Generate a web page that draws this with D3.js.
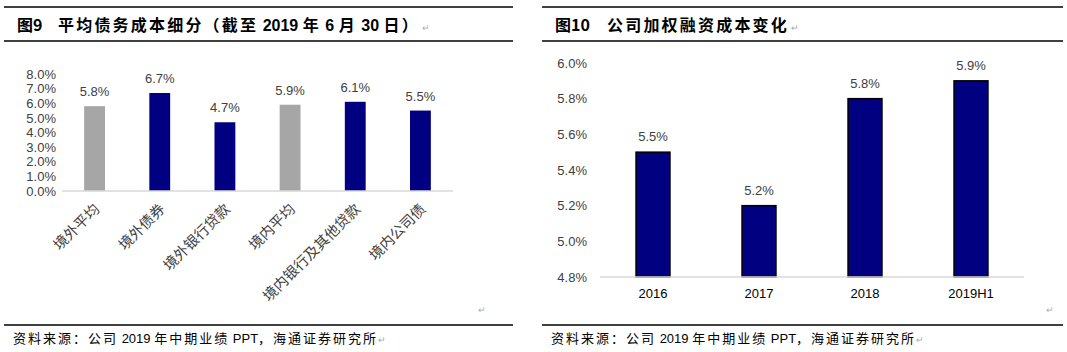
<!doctype html>
<html>
<head>
<meta charset="utf-8">
<title>chart</title>
<style>
body { margin: 0; background: #fff; }
svg text { font-family: Arial, "Liberation Sans", "Noto Sans CJK SC", sans-serif; }
.cjk { font-family: "Noto Sans CJK SC", sans-serif; }
</style>
<script src="https://cdn.jsdelivr.net/npm/d3@7"></script>
</head>
<body>
<svg width="1067" height="352"></svg>
<script>
// left chart data
var leftCats = ["境外平均", "境外债券", "境外银行贷款", "境内平均", "境内银行及其他贷款", "境内公司债"];
var leftVals = [0.058, 0.067, 0.047, 0.059, 0.061, 0.055];
var leftIsAvg = [true, false, false, true, false, false];
var leftTicks = [0, 0.01, 0.02, 0.03, 0.04, 0.05, 0.06, 0.07, 0.08];

// right chart data
var rightCats = ["2016", "2017", "2018", "2019H1"];
var rightVals = [0.055, 0.052, 0.058, 0.059];
var rightTicks = [0.048, 0.050, 0.052, 0.054, 0.056, 0.058, 0.060];

var svg = d3.select("svg");
var pct = d3.format(".1%");

// CJK runs get letter spacing, latin runs none
function spaced(t, str, ls) {
    str.match(/[\u3000-\u9fff\uff00-\uffef]+|[^\u3000-\u9fff\uff00-\uffef]+/g).forEach(function(s) {
        var cjk = /[\u3000-\u9fff\uff00-\uffef]/.test(s);
        t.append("tspan").attr("letter-spacing", cjk ? ls : 0)
            .style("font-family", cjk ? null : "Arial")
            .attr("xml:space", "preserve")
            .text(s);
    });
    return t;
}

// frame lines, titles, footnotes
function frame(x0, x1, title, tx, gap) {
    [7, 41, 325].forEach(function(y) {
        svg.append("line").attr("x1", x0).attr("x2", x1).attr("y1", y).attr("y2", y)
            .attr("stroke", "#000").attr("stroke-width", 1.5);
    });
    svg.append("text").attr("class", "cjk").attr("x", tx).attr("y", 31)
        .attr("font-size", 16).attr("font-weight", "bold").attr("fill", "#000")
        .text(title[0]);
    var t = svg.append("text").attr("class", "cjk").attr("x", tx + gap).attr("y", 31)
        .attr("font-size", 16).attr("font-weight", "bold").attr("fill", "#000");
    spaced(t, title[1], 2.2);
    t.append("tspan").attr("font-size", 9).attr("font-weight", "normal").attr("fill", "#aaa").text(" ↵");
    var f = svg.append("text").attr("class", "cjk").attr("x", tx - 4).attr("y", 343)
        .attr("font-size", 13).attr("fill", "#000");
    spaced(f, "资料来源：公司 2019 年中期业绩 PPT，海通证券研究所", 2);
    f.append("tspan").attr("font-size", 9).attr("fill", "#aaa").text("↵");
}
frame(4, 513, ["图9", "平均债务成本细分（截至 2019 年 6 月 30 日）"], 17, 41);
frame(542, 1063, ["图10", "公司加权融资成本变化"], 555, 52);
svg.append("text").attr("x", 478).attr("y", 313).attr("font-size", 9).attr("fill", "#aaa").text("↵");
svg.append("text").attr("x", 1046).attr("y", 313).attr("font-size", 9).attr("fill", "#aaa").text("↵");

// left chart
var xL = d3.scaleBand().domain(leftCats).range([62, 453]).paddingInner(0.68).paddingOuter(0.34);
var yL = d3.scaleLinear().domain([0, 0.08]).range([191, 74]);

var gL = svg.append("g");
gL.append("g").attr("transform", "translate(56,0)")
    .call(d3.axisLeft(yL).tickValues(leftTicks).tickFormat(pct).tickSize(0).tickPadding(0))
    .call(function(g) { g.select(".domain").remove(); })
    .selectAll("text").attr("font-size", 13).attr("fill", "#404040").style("font-family", "Arial");

gL.selectAll("rect").data(leftCats).enter().append("rect")
    .attr("x", function(d) { return xL(d); })
    .attr("width", xL.bandwidth())
    .attr("y", function(d, i) { return yL(leftVals[i]); })
    .attr("height", function(d, i) { return yL(0) - yL(leftVals[i]); })
    .attr("fill", function(d, i) { return leftIsAvg[i] ? "#a6a6a6" : "#000080"; });

gL.append("line").attr("x1", 62).attr("x2", 453).attr("y1", yL(0)).attr("y2", yL(0))
    .attr("stroke", "#d9d9d9").attr("stroke-width", 1.5);

gL.selectAll(".vl").data(leftCats).enter().append("text")
    .attr("x", function(d) { return xL(d) + xL.bandwidth() / 2; })
    .attr("y", function(d, i) { return yL(leftVals[i]) - 10; })
    .attr("text-anchor", "middle").attr("font-size", 13).attr("fill", "#404040")
    .text(function(d, i) { return pct(leftVals[i]); });

gL.selectAll(".xl").data(leftCats).enter().append("text").attr("class", "cjk")
    .attr("transform", function(d) {
        return "translate(" + (xL(d) + xL.bandwidth() / 2 + 6) + ",210) rotate(-45)";
    })
    .attr("text-anchor", "end").attr("font-size", 14.5).attr("fill", "#404040")
    .text(function(d) { return d; });

// right chart
var xR = d3.scaleBand().domain(rightCats).range([600, 1024]).paddingInner(0.68).paddingOuter(0.34);
var yR = d3.scaleLinear().domain([0.048, 0.060]).range([277, 63]);

var gR = svg.append("g");
gR.append("g").attr("transform", "translate(587,0)")
    .call(d3.axisLeft(yR).tickValues(rightTicks).tickFormat(pct).tickSize(0).tickPadding(0))
    .call(function(g) { g.select(".domain").remove(); })
    .selectAll("text").attr("font-size", 13).attr("fill", "#404040").style("font-family", "Arial");

gR.selectAll("rect").data(rightCats).enter().append("rect")
    .attr("x", function(d) { return xR(d); })
    .attr("width", xR.bandwidth())
    .attr("y", function(d, i) { return yR(rightVals[i]); })
    .attr("height", function(d, i) { return yR(0.048) - yR(rightVals[i]); })
    .attr("fill", "#000080").attr("stroke", "#000").attr("stroke-width", 1.5);

gR.append("line").attr("x1", 600).attr("x2", 1024).attr("y1", yR(0.048)).attr("y2", yR(0.048))
    .attr("stroke", "#d9d9d9").attr("stroke-width", 1.5);

gR.selectAll(".vl").data(rightCats).enter().append("text")
    .attr("x", function(d) { return xR(d) + xR.bandwidth() / 2; })
    .attr("y", function(d, i) { return yR(rightVals[i]) - 11; })
    .attr("text-anchor", "middle").attr("font-size", 13).attr("fill", "#404040")
    .text(function(d, i) { return pct(rightVals[i]); });

gR.selectAll(".xl").data(rightCats).enter().append("text")
    .attr("x", function(d) { return xR(d) + xR.bandwidth() / 2; })
    .attr("y", 298)
    .attr("text-anchor", "middle").attr("font-size", 13).attr("fill", "#000")
    .text(function(d) { return d; });
</script>
</body>
</html>
